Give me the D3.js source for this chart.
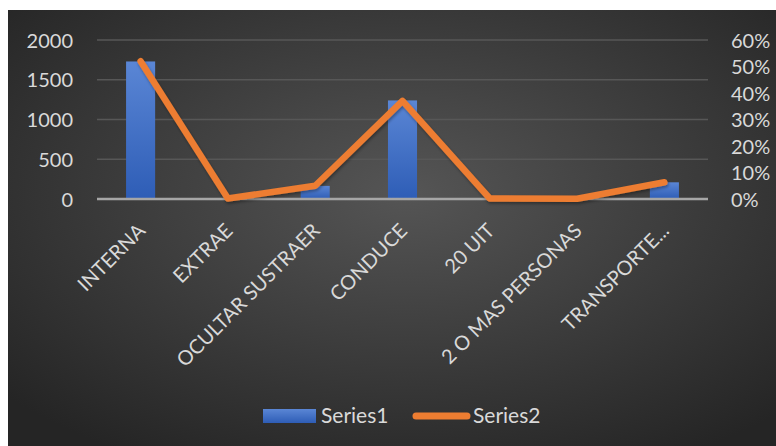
<!DOCTYPE html>
<html>
<head>
<meta charset="utf-8">
<script src="https://cdn.jsdelivr.net/npm/d3@7"></script>
<style>
  html, body { margin: 0; padding: 0; background: #ffffff; }
  svg { display: block; }
  text { font-family: Lato, "Open Sans", sans-serif; fill: #d9d9d9; }
</style>
</head>
<body>
<svg id="chart" width="776" height="446"></svg>
<script>
// Categories and the two series
const categories = ["INTERNA", "EXTRAE", "OCULTAR SUSTRAER", "CONDUCE", "20 UIT", "2 O MAS PERSONAS", "TRANSPORTE..."];
const series1 = [1730, 5, 165, 1240, 5, 2, 210];
const series2 = [0.52, 0.002, 0.05, 0.37, 0.002, 0.001, 0.063];
const leftTicks = [0, 500, 1000, 1500, 2000];
const rightTicks = [0, 0.1, 0.2, 0.3, 0.4, 0.5, 0.6];
const seriesNames = ["Series1", "Series2"];

const W = 776, H = 446;
const plot = { left: 97, right: 708, top: 40, bottom: 199 };

const svg = d3.select("#chart");
const defs = svg.append("defs");

// Dark radial backdrop
const bg = defs.append("radialGradient").attr("id", "bgGrad")
  .attr("cx", "52%").attr("cy", "42%").attr("r", "70%");
bg.append("stop").attr("offset", "0%").attr("stop-color", "#555555");
bg.append("stop").attr("offset", "100%").attr("stop-color", "#252525");

// Bar fill: lighter blue at top, deeper at bottom
const barGrad = defs.append("linearGradient").attr("id", "barGrad")
  .attr("x1", 0).attr("y1", 0).attr("x2", 0).attr("y2", 1);
barGrad.append("stop").attr("offset", "0%").attr("stop-color", "#5a86d5");
barGrad.append("stop").attr("offset", "100%").attr("stop-color", "#2e5db6");

// Soft shadow under the line
const sh = defs.append("filter").attr("id", "lineShadow").attr("x", "-10%").attr("y", "-10%").attr("width", "120%").attr("height", "130%");
sh.append("feDropShadow").attr("dx", 1).attr("dy", 2).attr("stdDeviation", 1.5)
  .attr("flood-color", "#000").attr("flood-opacity", 0.35);

svg.append("rect").attr("x", 8).attr("y", 10).attr("width", W - 8).attr("height", H - 10)
  .attr("fill", "url(#bgGrad)");

const x = d3.scaleBand().domain(categories).range([plot.left, plot.right]).paddingInner(0.667).paddingOuter(0.333);
const yL = d3.scaleLinear().domain([0, 2000]).range([plot.bottom, plot.top]);
const yR = d3.scaleLinear().domain([0, 0.6]).range([plot.bottom, plot.top]);
const xc = d => x(d) + x.bandwidth() / 2;

// Gridlines
svg.append("g").selectAll("line").data(leftTicks.filter(t => t > 0)).join("line")
  .attr("x1", plot.left).attr("x2", plot.right)
  .attr("y1", d => yL(d)).attr("y2", d => yL(d))
  .attr("stroke", "#575757").attr("stroke-width", 1.5);

// Left axis labels
const leftAxis = d3.axisLeft(yL).tickValues(leftTicks).tickSize(0).tickPadding(0).tickFormat(d3.format("d"));
const gl = svg.append("g").attr("transform", `translate(73,0)`).call(leftAxis);
gl.select(".domain").remove();
gl.selectAll("text").attr("font-size", 20).attr("fill", "#d9d9d9")
  .style("font-family", "Lato, 'Open Sans', sans-serif").attr("dy", "0.36em");

// Right axis labels
const rightAxis = d3.axisRight(yR).tickValues(rightTicks).tickSize(0).tickPadding(0).tickFormat(d3.format(".0%"));
const gr = svg.append("g").attr("transform", `translate(731,0)`).call(rightAxis);
gr.select(".domain").remove();
gr.selectAll("text").attr("font-size", 20).attr("fill", "#d9d9d9")
  .style("font-family", "Lato, 'Open Sans', sans-serif").attr("dy", "0.36em");

// Bars
svg.append("g").selectAll("rect").data(categories).join("rect")
  .attr("x", d => x(d))
  .attr("width", x.bandwidth())
  .attr("y", (d, i) => yL(series1[i]))
  .attr("height", (d, i) => plot.bottom - yL(series1[i]))
  .attr("fill", "url(#barGrad)");

// Zero baseline
svg.append("line").attr("x1", plot.left).attr("x2", plot.right)
  .attr("y1", plot.bottom).attr("y2", plot.bottom)
  .attr("stroke", "#a6a6a6").attr("stroke-width", 2.5);

// Line series on the secondary axis
const line = d3.line().x((d, i) => xc(categories[i])).y(d => yR(d));
svg.append("path").datum(series2)
  .attr("d", line)
  .attr("fill", "none").attr("stroke", "#ed7d31").attr("stroke-width", 6.5)
  .attr("stroke-linejoin", "round").attr("stroke-linecap", "round")
  .attr("filter", "url(#lineShadow)");

// Rotated category labels
svg.append("g").selectAll("text").data(categories).join("text")
  .attr("transform", d => `translate(${xc(d) + 6},${232}) rotate(-45)`)
  .attr("text-anchor", "end")
  .attr("font-size", 20)
  .text(d => d);

// Legend
const lg = svg.append("g");
lg.append("rect").attr("x", 263).attr("y", 409).attr("width", 53).attr("height", 14).attr("fill", "url(#barGrad)");
lg.append("text").attr("x", 321).attr("y", 423).attr("font-size", 21).text(seriesNames[0]);
lg.append("line").attr("x1", 416).attr("x2", 467).attr("y1", 416).attr("y2", 416)
  .attr("stroke", "#ed7d31").attr("stroke-width", 7).attr("stroke-linecap", "round");
lg.append("text").attr("x", 473).attr("y", 423).attr("font-size", 21).text(seriesNames[1]);
</script>
</body>
</html>
